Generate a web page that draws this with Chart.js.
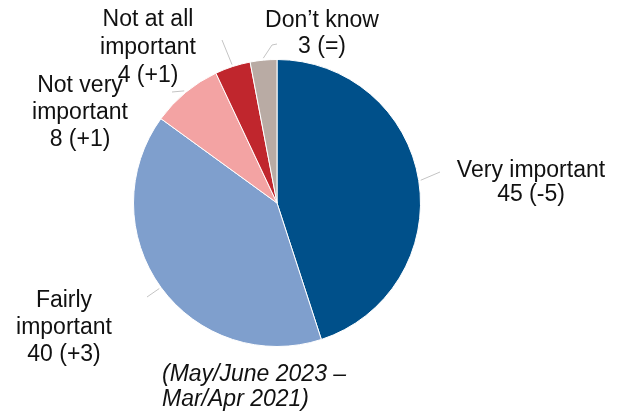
<!DOCTYPE html>
<html>
<head>
<meta charset="utf-8">
<script src="https://cdn.jsdelivr.net/npm/chart.js@4/dist/chart.umd.min.js"></script>
<style>
  html, body { margin: 0; padding: 0; background: #ffffff; }
  #wrap { width: 627px; height: 415px; position: relative; }
</style>
</head>
<body>
<div id="wrap"><canvas id="pieChart"></canvas></div>
<script>
// ===== DATA =====
const categories = ['Very important', 'Fairly important', 'Not very important', 'Not at all important', 'Don\u2019t know'];
const labelLinesText = [['Very important'], ['Fairly', 'important'], ['Not very', 'important'], ['Not at all', 'important'], ['Don\u2019t know']];
const values = [45, 40, 8, 4, 3];
const changes = ['-5', '+3', '+1', '+1', '='];
const sliceColors = ['#00508a', '#7f9fcd', '#f3a3a3', '#c0262d', '#b9aba4'];
const footnote = ['(May/June 2023 \u2013', 'Mar/Apr 2021)'];

// ===== LABEL LAYOUT =====
const labelX = [531, 64, 80, 148, 322];
const labelY = [177, 307, 92, 26, 27];
const labelLH = [24, 27, 27, 28, 26];
const leaderEnds = [
    [[440, 172]],
    [[147, 297]],
    [[172, 92]],
    [[222, 40]],
    [[272, 45], [277, 44]]
];

const FONT = '23px "Liberation Sans", Arial, sans-serif';

// ===== LABEL PLUGIN =====
const pieLabels = {
    id: 'pieLabels',
    afterDraw(chart) {
        const ctx = chart.ctx;
        const arcs = chart.getDatasetMeta(0).data;
        ctx.save();

        // leader lines
        ctx.strokeStyle = '#c4c4c4';
        ctx.lineWidth = 1;
        arcs.forEach((arc, i) => {
            const mid = (arc.startAngle + arc.endAngle) / 2;
            const r = arc.outerRadius + 2;
            ctx.beginPath();
            ctx.moveTo(arc.x + Math.cos(mid) * r, arc.y + Math.sin(mid) * r);
            leaderEnds[i].forEach(p => ctx.lineTo(p[0], p[1]));
            ctx.stroke();
        });

        // labels
        ctx.fillStyle = '#111111';
        ctx.font = FONT;
        ctx.textAlign = 'center';
        ctx.textBaseline = 'alphabetic';
        arcs.forEach((arc, i) => {
            const lines = labelLinesText[i].concat([`${values[i]} (${changes[i]})`]);
            lines.forEach((t, j) => {
                ctx.fillText(t, labelX[i], labelY[i] + j * labelLH[i]);
            });
        });

        // footnote
        ctx.font = 'italic ' + FONT;
        ctx.textAlign = 'left';
        ctx.fillText(footnote[0], 162, 381);
        ctx.fillText(footnote[1], 162, 406);
        ctx.restore();
    }
};

// ===== RENDER CHART =====
const ctx = document.getElementById('pieChart').getContext('2d');
new Chart(ctx, {
    type: 'pie',
    data: {
        labels: categories,
        datasets: [{
            data: values,
            backgroundColor: sliceColors,
            borderColor: '#ffffff',
            borderWidth: 1
        }]
    },
    options: {
        responsive: true,
        maintainAspectRatio: false,
        animation: false,
        layout: { padding: { left: 133, right: 206, top: 59, bottom: 68 } },
        plugins: {
            legend: { display: false },
            tooltip: { enabled: false }
        }
    },
    plugins: [pieLabels]
});
</script>
</body>
</html>
